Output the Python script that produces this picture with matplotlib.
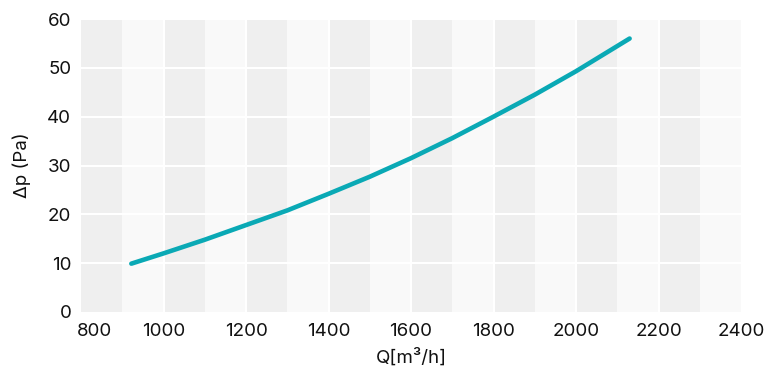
import matplotlib
matplotlib.use("Agg")
import matplotlib.pyplot as plt
import matplotlib.transforms as mtransforms

# pressure drop curve
flow = [922, 1000, 1100, 1200, 1300, 1400, 1500, 1600, 1700, 1800, 1900, 2000, 2130]
dp = [9.9, 12.0, 14.8, 17.8, 20.8, 24.2, 27.7, 31.5, 35.6, 40.0, 44.5, 49.3, 56.0]

x_ticks = [800, 1000, 1200, 1400, 1600, 1800, 2000, 2200, 2400]
y_ticks = [0, 10, 20, 30, 40, 50, 60]

plt.rcParams['font.family'] = ['Inter', 'DejaVu Sans']

fig = plt.figure(figsize=(7.7, 3.76), dpi=100)
ax = fig.add_axes([81 / 770, 1 - 312 / 376, 660 / 770, 293 / 376])

# alternating vertical bands every 100
for i, left in enumerate(range(800, 2400, 100)):
    ax.axvspan(left, left + 100, color='#efefef' if i % 2 == 0 else '#f9f9f9', lw=0, zorder=0)

for x in x_ticks[1:-1]:
    ax.axvline(x, color='white', lw=1.5, zorder=1)
for y in y_ticks[1:]:
    ax.axhline(y, color='white', lw=1.5, zorder=1)

ax.plot(flow, dp, color='#0aa9b5', lw=3.3, solid_capstyle='round', zorder=3)

ax.set_xlim(800, 2400)
ax.set_ylim(0, 60)
ax.set_xticks(x_ticks)
ax.set_yticks(y_ticks)
ax.tick_params(length=0, labelsize=13.5, colors='#111111')
ax.tick_params(axis='x', pad=8)
ax.tick_params(axis='y', pad=7)
for s in ax.spines.values():
    s.set_visible(False)

# first x label sits a bit to the right, clear of the "0"
fig.canvas.draw()
first = ax.get_xticklabels()[0]
first.set_transform(first.get_transform() + mtransforms.ScaledTranslation(13 / 100, 0, fig.dpi_scale_trans))

ax.set_xlabel('Q[m³/h]', fontsize=13.5, color='#111111', labelpad=6)
ax.set_ylabel('Δp (Pa)', fontsize=13.5, color='#111111', labelpad=12)

fig.savefig('out.png', dpi=100)
